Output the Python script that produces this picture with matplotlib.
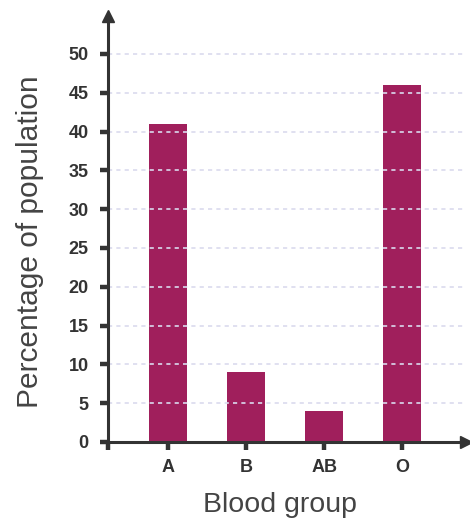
import matplotlib
matplotlib.use("Agg")
import matplotlib.pyplot as plt

groups = ["A", "B", "AB", "O"]
percent = [41, 9, 4, 46]
yticks = [0, 5, 10, 15, 20, 25, 30, 35, 40, 45, 50]

W, H = 470, 522
fig = plt.figure(figsize=(W/100, H/100), dpi=100)
x0, y0, x1, y1 = 108, 442, 466, 16
ax = fig.add_axes([x0/W, (H-y0)/H, (x1-x0)/W, (y0-y1)/H])

bar_color = "#A01F5C"
axis_color = "#333333"
xs = list(range(len(groups)))
ax.bar(xs, percent, width=0.49, color=bar_color, zorder=2)

left = -0.77
ax.set_xlim(left, left + (x1 - x0) / 78.0)
ax.set_ylim(0, (y0 - y1) / 7.76)

for v in yticks[1:]:
    ax.axhline(v, color="#DADAEE", lw=1.2, linestyle=(0, (2.5, 2.5)), zorder=3)

for s in ["top", "right"]:
    ax.spines[s].set_visible(False)
for s in ["left", "bottom"]:
    ax.spines[s].set_color(axis_color)
    ax.spines[s].set_linewidth(2.2)
    ax.spines[s].set_zorder(4)

ax.plot(1, 0, marker=">", color=axis_color, markersize=9, transform=ax.transAxes, clip_on=False, zorder=5)
ax.plot(0, 1, marker="^", color=axis_color, markersize=9, transform=ax.transAxes, clip_on=False, zorder=5)

ax.set_yticks(yticks)
ax.set_yticklabels([str(v) for v in yticks])
ax.set_xticks([left] + xs)
ax.set_xticklabels([""] + groups)
ax.tick_params(axis="both", direction="out", length=6, width=3.2, color=axis_color,
               labelsize=13, labelcolor="#333333")
ax.tick_params(axis="y", pad=8)
ax.tick_params(axis="x", pad=6)
for lab in ax.get_xticklabels() + ax.get_yticklabels():
    lab.set_fontweight("bold")
    lab.set_fontfamily("Liberation Sans")

ax.set_ylabel("Percentage of population", fontsize=21.5, color="#444444", family="Liberation Sans")
ax.set_xlabel("Blood group", fontsize=20.5, color="#444444", family="Liberation Sans")
ax.xaxis.set_label_coords((280 - x0) / (x1 - x0), -(492 - y0) / (y0 - y1), transform=ax.transAxes)
ax.yaxis.set_label_coords(-(x0 - 44) / (x1 - x0), (y0 - 242) / (y0 - y1), transform=ax.transAxes)

fig.savefig("out.png", dpi=100)
